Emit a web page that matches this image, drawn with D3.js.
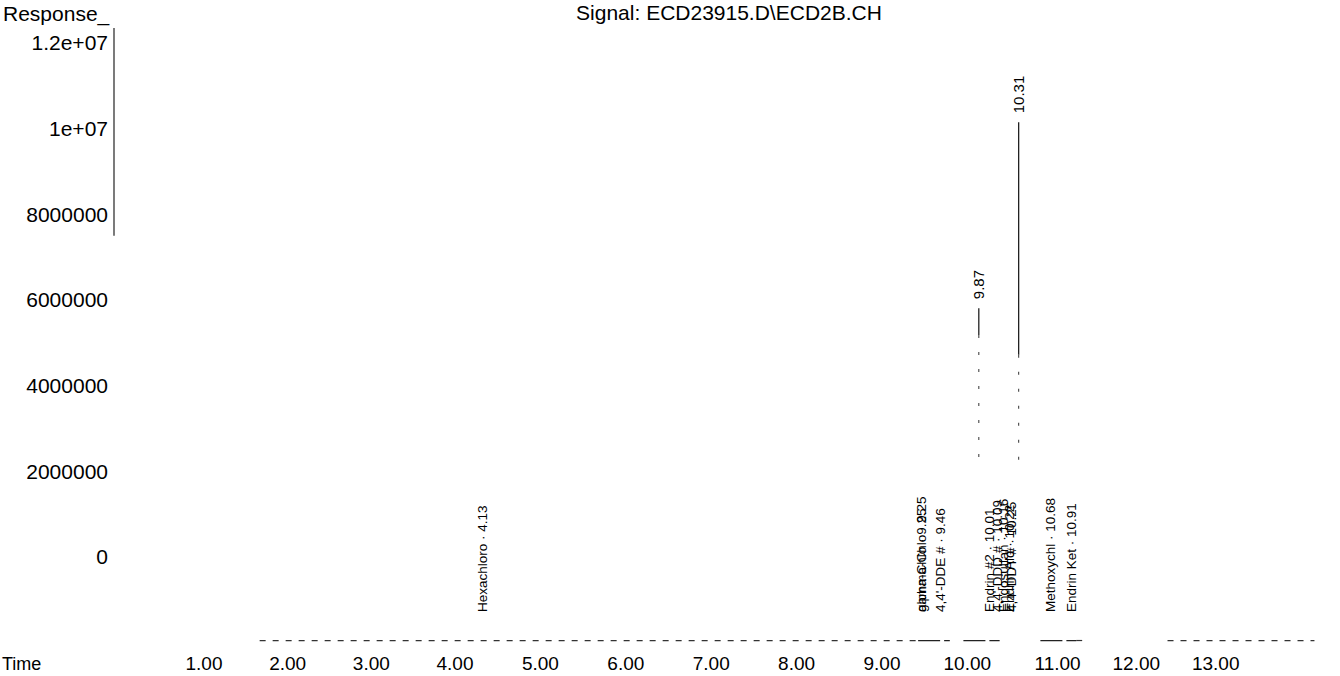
<!DOCTYPE html>
<html><head><meta charset="utf-8">
<script src="https://cdn.jsdelivr.net/npm/d3@7"></script>
<style>
html,body{margin:0;background:#fff;}
svg text{font-family:"Liberation Sans",Arial,Helvetica,sans-serif;fill:#000;}
</style>
</head><body>
<svg id="chart" width="1340" height="676"></svg>
<script>
// ---------------- data ----------------
const titleText = "Signal: ECD23915.D\\ECD2B.CH";
const yAxisTitle = "Response_";
const xAxisTitle = "Time";

const yTickValues = [0, 2000000, 4000000, 6000000, 8000000, 10000000, 12000000];
const yTickLabels = ["0", "2000000", "4000000", "6000000", "8000000", "1e+07", "1.2e+07"];

const xTickValues = [1, 2, 3, 4, 5, 6, 7, 8, 9, 10, 11, 12, 13];
const xTickLabels = ["1.00", "2.00", "3.00", "4.00", "5.00", "6.00", "7.00", "8.00", "9.00", "10.00", "11.00", "12.00", "13.00"];

// baseline level of the trace (response) and the time spans where it is visible
const baselineResponse = -1950000;
const baselineDashedRuns = [[1.45, 9.2], [10.95, 11.05], [12.1, 13.95]];
const baselineSolidRuns = [[9.2, 9.55], [9.7, 10.1], [10.55, 10.95]];

// the two large peaks: time, apex, bottom of the solid part, lowest visible point
const peakTimes = [9.87, 10.31];
const peakApex = [5810000, 10150000];
const peakSolidBottom = [5180000, 4720000];
const peakVisibleBottom = [2080000, 2030000];

// compound annotations
const labelNames = ["Hexachloro", "alpha-Chlo", "gamma-Chlo", "4,4'-DDE #", "Endrin #2", "4,4'-DDD #", "Endosulfan", "Endrin Ald", "4,4'-DDT #", "Methoxychl", "Endrin Ket"];
const labelTimes = [4.13, 9.25, 9.25, 9.46, 10.01, 10.09, 10.16, 10.22, 10.25, 10.68, 10.91];

// ---------------- drawing ----------------
const svg = d3.select("#chart");

const x = d3.scaleLinear()
  .domain([1, 4, 9, 10.91, 13])
  .range([222, 473, 900, 1073, 1239]);

const y = d3.scaleLinear()
  .domain([0, 12000000])
  .range([557, 43]);

// title
svg.append("text")
  .attr("x", 729).attr("y", 20)
  .attr("text-anchor", "middle")
  .style("font-size", "21px")
  .text(titleText);

svg.append("text")
  .attr("x", 3).attr("y", 21)
  .style("font-size", "21px")
  .text(yAxisTitle);

// y axis
const yAxis = d3.axisLeft(y)
  .tickValues(yTickValues)
  .tickFormat((d, i) => yTickLabels[i])
  .tickSize(0)
  .tickPadding(6);

const gy = svg.append("g")
  .attr("transform", "translate(114,0)")
  .call(yAxis);
gy.select(".domain").remove();
gy.selectAll("text").style("font-size", "21px").attr("fill", "#000").style("font-family", "'Liberation Sans',Arial,sans-serif");

// partial axis line as in the scanned print
svg.append("line")
  .attr("x1", 114).attr("x2", 114)
  .attr("y1", y(12350000)).attr("y2", y(7500000))
  .attr("stroke", "#222").attr("stroke-width", 1.2);

// x axis labels
const xAxis = d3.axisBottom(x)
  .tickValues(xTickValues)
  .tickFormat((d, i) => xTickLabels[i])
  .tickSize(0)
  .tickPadding(3);

const gx = svg.append("g")
  .attr("transform", "translate(0,653.5)")
  .call(xAxis);
gx.select(".domain").remove();
gx.selectAll("text")
  .attr("text-anchor", "end")
  .attr("fill", "#000")
  .style("font-size", "19px")
  .style("font-family", "'Liberation Sans',Arial,sans-serif");

svg.append("text")
  .attr("x", 2).attr("y", 670)
  .style("font-size", "18px")
  .text(xAxisTitle);

// baseline trace
const line = d3.line().x(d => x(d[0])).y(d => y(d[1]));

svg.append("g").selectAll("path.dash")
  .data(baselineDashedRuns)
  .join("path")
  .attr("d", r => line([[r[0], baselineResponse], [r[1], baselineResponse]]))
  .attr("fill", "none")
  .attr("stroke", "#333")
  .attr("stroke-width", 1.2)
  .attr("stroke-dasharray", "6,7");

svg.append("g").selectAll("path.solid")
  .data(baselineSolidRuns)
  .join("path")
  .attr("d", r => line([[r[0], baselineResponse], [r[1], baselineResponse]]))
  .attr("fill", "none")
  .attr("stroke", "#222")
  .attr("stroke-width", 1.3)
  .attr("stroke-dasharray", "22,4");

// peaks
const peaks = peakTimes.map((t, i) => ({t, apex: peakApex[i], solid: peakSolidBottom[i], low: peakVisibleBottom[i]}));

svg.append("g").selectAll("line")
  .data(peaks)
  .join("line")
  .attr("x1", d => x(d.t)).attr("x2", d => x(d.t))
  .attr("y1", d => y(d.apex)).attr("y2", d => y(d.solid))
  .attr("stroke", "#222").attr("stroke-width", 1.3);

svg.append("g").selectAll("line")
  .data(peaks)
  .join("line")
  .attr("x1", d => x(d.t)).attr("x2", d => x(d.t))
  .attr("y1", d => y(d.solid)).attr("y2", d => y(d.low))
  .attr("stroke", "#444").attr("stroke-width", 1.1)
  .attr("stroke-dasharray", "3,14");

// peak apex labels
svg.append("g").selectAll("text")
  .data(peaks)
  .join("text")
  .attr("transform", d => `translate(${x(d.t) + 5},${y(d.apex) - 9}) rotate(-90)`)
  .style("font-size", "15px")
  .text(d => d.t.toFixed(2));

// compound labels
const labels = labelNames.map((n, i) => ({name: n, t: labelTimes[i]}));
svg.append("g").selectAll("text")
  .data(labels)
  .join("text")
  .attr("transform", d => `translate(${x(d.t) + 3},612) rotate(-90)`)
  .style("font-size", "13.5px")
  .style("white-space", "pre")
  .text(d => `${d.name} \u00b7 ${d.t.toFixed(2)}`);
</script>
</body></html>
